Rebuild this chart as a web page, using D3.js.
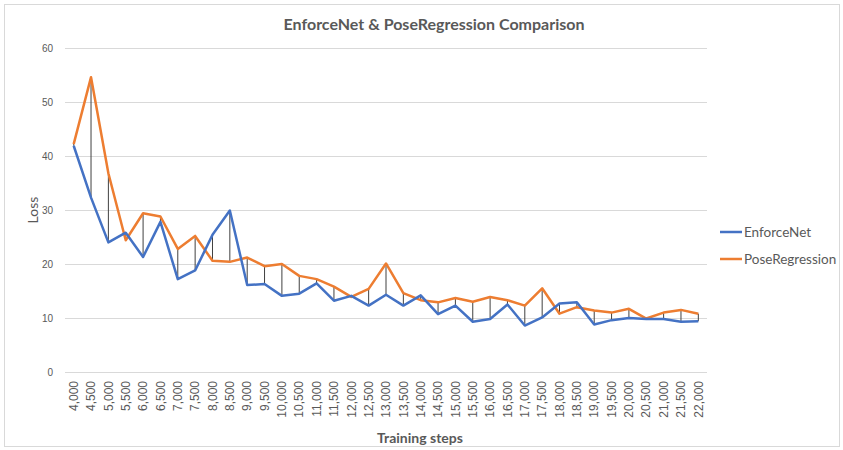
<!DOCTYPE html>
<html>
<head>
  <script src="https://d3js.org/d3.v7.min.js"></script>
  <style>
    body { margin: 0; background: #fff; }
    svg { font-family: Lato, "Open Sans", sans-serif; }
    .axis text { fill: #595959; }
    .axis path { display: none; }
    .grid line { stroke: #d9d9d9; stroke-width: 1px; }
  </style>
</head>
<body>
  <script>
    // training steps (categories)
    var steps = [4000, 4500, 5000, 5500, 6000, 6500, 7000, 7500, 8000, 8500,
      9000, 9500, 10000, 10500, 11000, 11500, 12000, 12500, 13000, 13500,
      14000, 14500, 15000, 15500, 16000, 16500, 17000, 17500, 18000, 18500,
      19000, 19500, 20000, 20500, 21000, 21500, 22000];

    var enforceNet = [41.9, 32.3, 24.0, 25.8, 21.3, 27.8, 17.2, 18.8, 25.4, 29.9,
      16.1, 16.3, 14.1, 14.5, 16.4, 13.2, 14.1, 12.3, 14.3, 12.3,
      14.2, 10.7, 12.3, 9.3, 9.8, 12.5, 8.6, 10.1, 12.7, 12.9,
      8.8, 9.6, 10.0, 9.8, 9.8, 9.3, 9.4];

    var poseRegression = [42.2, 54.6, 36.8, 24.4, 29.4, 28.8, 22.8, 25.2, 20.6, 20.4,
      21.2, 19.6, 20.0, 17.8, 17.2, 15.8, 13.9, 15.4, 20.1, 14.6,
      13.3, 12.9, 13.7, 13.0, 13.9, 13.3, 12.3, 15.5, 10.8, 12.0,
      11.4, 11.0, 11.7, 9.9, 11.0, 11.5, 10.8];

    var yTicks = [0, 10, 20, 30, 40, 50, 60];

    var width = 843, height = 450;
    var margin = { left: 65, right: 707, top: 48, bottom: 372 };

    var svg = d3.select("body").append("svg")
        .attr("width", width)
        .attr("height", height);

    // chart border
    svg.append("rect")
        .attr("x", 4.5).attr("y", 4.5)
        .attr("width", 835).attr("height", 442)
        .attr("fill", "none")
        .attr("stroke", "#d9d9d9");

    var x = d3.scaleBand()
        .domain(steps)
        .range([margin.left, margin.right]);
    var y = d3.scaleLinear()
        .domain([0, 60])
        .range([margin.bottom, margin.top]);
    var cx = function(d) { return x(d) + x.bandwidth() / 2; };

    // gridlines
    svg.append("g")
        .attr("class", "grid")
        .selectAll("line")
        .data(yTicks)
      .enter().append("line")
        .attr("x1", margin.left).attr("x2", margin.right)
        .attr("y1", function(d) { return Math.round(y(d)) + 0.5; })
        .attr("y2", function(d) { return Math.round(y(d)) + 0.5; });

    // y axis labels
    var yAxis = d3.axisLeft(y)
        .tickValues(yTicks)
        .tickSize(0)
        .tickPadding(12);
    svg.append("g")
        .attr("class", "axis")
        .attr("transform", "translate(" + margin.left + ",0)")
        .call(yAxis)
        .selectAll("text")
        .style("font-size", "10px");

    // x axis labels (rotated)
    var xAxis = d3.axisBottom(x)
        .tickSize(0)
        .tickFormat(d3.format(","));
    var xg = svg.append("g")
        .attr("class", "axis")
        .attr("transform", "translate(0," + margin.bottom + ")")
        .call(xAxis);
    xg.selectAll("text")
        .style("font-size", "12px")
        .attr("text-anchor", "end")
        .attr("dy", "0.35em")
        .attr("transform", "translate(0,9) rotate(-90)")
        .attr("x", 0).attr("y", 0);

    // high-low lines
    svg.append("g")
        .selectAll("line")
        .data(steps)
      .enter().append("line")
        .attr("x1", function(d) { return cx(d); })
        .attr("x2", function(d) { return cx(d); })
        .attr("y1", function(d, i) { return y(enforceNet[i]); })
        .attr("y2", function(d, i) { return y(poseRegression[i]); })
        .attr("stroke", "#404040")
        .attr("stroke-width", 1);

    var line = d3.line()
        .x(function(d, i) { return cx(steps[i]); })
        .y(function(d) { return y(d); });

    svg.append("path")
        .datum(poseRegression)
        .attr("d", line)
        .attr("fill", "none")
        .attr("stroke", "#ED7D31")
        .attr("stroke-width", 2.5)
        .attr("stroke-linejoin", "round");

    svg.append("path")
        .datum(enforceNet)
        .attr("d", line)
        .attr("fill", "none")
        .attr("stroke", "#4472C4")
        .attr("stroke-width", 2.5)
        .attr("stroke-linejoin", "round");

    // title
    svg.append("text")
        .attr("x", 434).attr("y", 30)
        .attr("text-anchor", "middle")
        .style("font-size", "16px")
        .style("font-weight", "bold")
        .attr("fill", "#595959")
        .text("EnforceNet & PoseRegression Comparison");

    // axis titles
    svg.append("text")
        .attr("transform", "translate(38,210) rotate(-90)")
        .attr("text-anchor", "middle")
        .style("font-size", "14px")
        .attr("fill", "#595959")
        .text("Loss");

    svg.append("text")
        .attr("x", 420).attr("y", 443)
        .attr("text-anchor", "middle")
        .style("font-size", "14px")
        .style("font-weight", "bold")
        .attr("fill", "#595959")
        .text("Training steps");

    // legend
    var legend = [
      { name: "EnforceNet", color: "#4472C4" },
      { name: "PoseRegression", color: "#ED7D31" }
    ];
    var lg = svg.selectAll(".legend")
        .data(legend)
      .enter().append("g")
        .attr("class", "legend")
        .attr("transform", function(d, i) { return "translate(720," + (232 + i * 27) + ")"; });
    lg.append("line")
        .attr("x1", 0).attr("x2", 22)
        .attr("stroke", function(d) { return d.color; })
        .attr("stroke-width", 2.5);
    lg.append("text")
        .attr("x", 24).attr("dy", "0.35em")
        .style("font-size", "13.5px")
        .attr("fill", "#595959")
        .text(function(d) { return d.name; });
  </script>
</body>
</html>
